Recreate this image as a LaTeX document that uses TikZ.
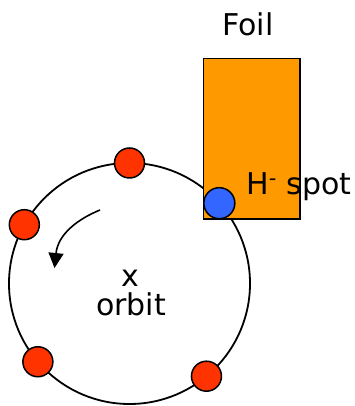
\documentclass[tikz,border=0pt]{standalone}
\usepackage{fontspec}
\setmainfont{DejaVu Sans}
\usetikzlibrary{arrows.meta,calc}
\definecolor{foilor}{HTML}{FF9900}
\definecolor{dotred}{HTML}{FF3300}
\definecolor{spotblue}{HTML}{3366FF}
\begin{document}
\begin{tikzpicture}[x=1pt,y=1pt,
  ring/.style={draw=black,line width=1.8pt},
  bunch/.style={circle,draw=black,line width=1.5pt,fill=dotred,minimum size=30pt,inner sep=0pt},
  hspot/.style={circle,draw=black,line width=1.5pt,fill=spotblue,minimum size=31pt,inner sep=0pt},
  lbl/.style={font=\fontsize{30}{34}\selectfont,inner sep=0pt}]
\useasboundingbox (0,0) rectangle (355,406);
\coordinate (c) at (129.5,122.5);
\draw[ring] (c) circle (120.5);
\node[draw=black,line width=1.6pt,fill=foilor,minimum width=96.6pt,minimum height=160.7pt,inner sep=0pt,anchor=south west] (foil) at (202.7,186) {};
\node[bunch] (b1) at ($(c)+(90:120.5)$) {};
\node[bunch] (b2) at ($(c)+(150.8:120.5)$) {};
\node[bunch] (b3) at ($(c)+(220.5:120.5)$) {};
\node[bunch] (b4) at ($(c)+(-50.3:120.5)$) {};
\node[hspot] (h) at ($(c)+(41.8:120.5)$) {};
\node[lbl,anchor=base] (foiltxt) at (248,370) {Foil};
\node[lbl,anchor=base west] (htxt) at (246,211) {H\textsuperscript{-} spot};
\node[lbl,anchor=base] (x) at (130,119) {x};
\node[lbl,anchor=base] (orb) at (131,90) {orbit};
\coordinate (a1) at (100,196);
\coordinate (a2) at (54.5,138);
\draw[line width=1.6pt,-{Triangle[width=15pt,length=15pt]}] (a1) .. controls (78,187) and (58,172) .. (a2);
\end{tikzpicture}
\end{document}
